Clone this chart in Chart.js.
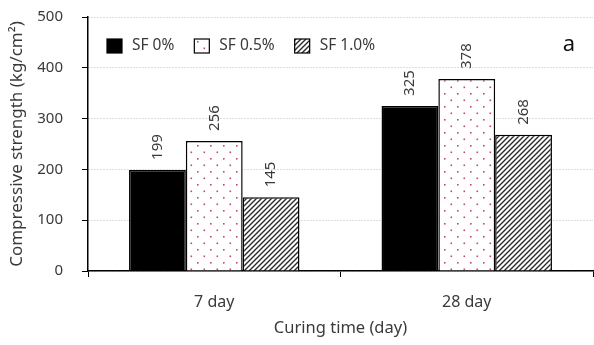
<!DOCTYPE html>
<html>
<head>
<meta charset="utf-8">
<script src="https://cdn.jsdelivr.net/npm/chart.js@4/dist/chart.umd.min.js"></script>
<style>
  html, body { margin: 0; padding: 0; background: #fff; }
  #wrap { width: 594px; height: 345px; }
</style>
</head>
<body>
<div id="wrap"><canvas id="c" width="594" height="345"></canvas></div>
<script>
// Compressive strength (kg/cm2) by curing time and silica fume content
const categories = ['7 day', '28 day'];
const seriesNames = ['SF 0%', 'SF 0.5%', 'SF 1.0%'];
const sf0 = [199, 325];
const sf05 = [256, 378];
const sf10 = [145, 268];
const yTicks = [0, 100, 200, 300, 400, 500];

const FONT = '"Noto Sans", "Open Sans", sans-serif';
const TXT = '#3a3a3a';

// pink dot fill
function dotPattern() {
  const c = document.createElement('canvas');
  c.width = 13; c.height = 13;
  const g = c.getContext('2d');
  g.fillStyle = '#fff';
  g.fillRect(0, 0, 13, 13);
  g.fillStyle = '#c2457f';
  g.fillRect(2, 2, 1.6, 1.6);
  g.fillRect(8.5, 8.5, 1.6, 1.6);
  return g.createPattern(c, 'repeat');
}
// diagonal hatch fill
function hatchPattern() {
  const s = 5;
  const c = document.createElement('canvas');
  c.width = s; c.height = s;
  const g = c.getContext('2d');
  g.fillStyle = '#fff';
  g.fillRect(0, 0, s, s);
  g.strokeStyle = '#2a2a2a';
  g.lineWidth = 1.4;
  g.beginPath();
  g.moveTo(-1, s + 1); g.lineTo(s + 1, -1);
  g.moveTo(-1, 1); g.lineTo(1, -1);
  g.moveTo(s - 1, s + 1); g.lineTo(s + 1, s - 1);
  g.stroke();
  return g.createPattern(c, 'repeat');
}

const fills = ['#000', dotPattern(), hatchPattern()];
const values = [sf0, sf05, sf10];

// rotated value labels above bars
const valueLabels = {
  id: 'valueLabels',
  afterDatasetsDraw(chart) {
    const ctx = chart.ctx;
    ctx.save();
    ctx.font = '15px ' + FONT;
    ctx.fillStyle = TXT;
    ctx.textAlign = 'left';
    ctx.textBaseline = 'middle';
    chart.data.datasets.forEach((ds, i) => {
      chart.getDatasetMeta(i).data.forEach((bar, j) => {
        ctx.save();
        ctx.translate(bar.x, bar.y - 10);
        ctx.rotate(-Math.PI / 2);
        ctx.fillText(String(ds.data[j]), 0, 0);
        ctx.restore();
      });
    });
    ctx.restore();
  }
};

// legend row inside the plot and the panel letter
const insideLegend = {
  id: 'insideLegend',
  afterDraw(chart) {
    const ctx = chart.ctx;
    const a = chart.chartArea;
    ctx.save();
    ctx.font = '15.5px ' + FONT;
    ctx.textBaseline = 'middle';
    ctx.textAlign = 'left';
    let x = a.left + 19;
    const y = a.top + 29;
    chart.data.datasets.forEach((ds) => {
      ctx.fillStyle = ds.backgroundColor;
      ctx.fillRect(x, y - 7, 15, 14);
      ctx.strokeStyle = '#000';
      ctx.lineWidth = 1.2;
      ctx.strokeRect(x, y - 7, 15, 14);
      ctx.fillStyle = TXT;
      ctx.fillText(ds.label, x + 25, y);
      x += 25 + ctx.measureText(ds.label).width + 20;
    });
    ctx.font = '22px ' + FONT;
    ctx.fillStyle = '#111';
    ctx.textAlign = 'center';
    ctx.fillText('a', a.right - 24, y - 1);
    ctx.restore();
  }
};

new Chart(document.getElementById('c'), {
  type: 'bar',
  data: {
    labels: categories,
    datasets: seriesNames.map((n, i) => ({
      label: n,
      data: values[i],
      backgroundColor: fills[i],
      borderColor: '#000',
      borderWidth: 1.5,
      borderSkipped: 'bottom',
      categoryPercentage: 0.675,
      barPercentage: 1.0
    }))
  },
  options: {
    responsive: false,
    animation: false,
    layout: { padding: { left: 0, right: 1, top: 17, bottom: 0 } },
    plugins: {
      legend: { display: false },
      tooltip: { enabled: false }
    },
    scales: {
      x: {
        grid: {
          offset: true,
          drawOnChartArea: false,
          drawTicks: true,
          tickLength: 6,
          tickColor: '#000',
          tickWidth: 1
        },
        border: { color: '#000', width: 1.5 },
        ticks: { color: TXT, font: { family: FONT, size: 16 }, padding: 16 },
        title: {
          display: true,
          text: 'Curing time (day)',
          color: TXT,
          font: { family: FONT, size: 16.5 },
          padding: { top: 4, bottom: 7 }
        },
        afterFit(s) { s.height = 74; s.paddingLeft = 0; s.paddingRight = 0; }
      },
      y: {
        min: 0,
        max: 500,
        afterBuildTicks(s) { s.ticks = yTicks.map(v => ({ value: v })); },
        grid: {
          color: '#bdbdbd',
          drawTicks: true,
          tickLength: 6,
          tickColor: '#000',
          tickBorderDash: [],
          tickWidth: 1
        },
        border: { color: '#000', width: 1.5, dash: [1, 2] },
        ticks: { color: TXT, font: { family: FONT, size: 15 }, padding: 19 },
        title: {
          display: true,
          text: 'Compressive strength (kg/cm\u00B2)',
          color: TXT,
          font: { family: FONT, size: 17 },
          padding: { top: 7, bottom: 0 }
        },
        afterFit(s) { s.width = 88; s.paddingTop = 0; s.paddingBottom = 0; }
      }
    }
  },
  plugins: [valueLabels, insideLegend]
});
</script>
</body>
</html>
